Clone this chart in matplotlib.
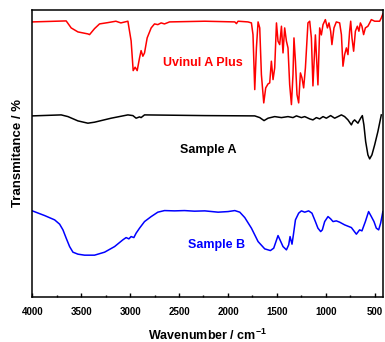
import matplotlib
matplotlib.use("Agg")
import matplotlib.pyplot as plt
from matplotlib.ticker import MultipleLocator

plt.rcParams["font.family"] = ["Liberation Sans", "DejaVu Sans"]
plt.rcParams["font.weight"] = "bold"
plt.rcParams["mathtext.fontset"] = "custom"
plt.rcParams["mathtext.rm"] = "Liberation Sans:bold"
plt.rcParams["mathtext.bf"] = "Liberation Sans:bold"

# Uvinul A Plus (offset spectrum, arbitrary transmittance units)
uvinul_wn = [4000, 3654, 3603, 3534, 3432, 3415, 3364, 3313, 3228, 3146, 3095, 3023,
             2990, 2969, 2949, 2928, 2904, 2888, 2870, 2853, 2826, 2785, 2751, 2717,
             2683, 2649, 2597, 2237, 1930, 1913, 1897, 1795, 1760, 1744, 1726, 1709,
             1692, 1675, 1658, 1634, 1614, 1590, 1573, 1556, 1539, 1522, 1504, 1488,
             1471, 1453, 1437, 1420, 1402, 1386, 1369, 1351, 1335, 1325, 1310, 1294,
             1277, 1259, 1243, 1226, 1208, 1182, 1164, 1147, 1131, 1106, 1080, 1062,
             1045, 1028, 1004, 983, 967, 950, 937, 916, 892, 858, 840, 824, 807, 789,
             773, 756, 745, 732, 715, 697, 677, 661, 646, 630, 613, 595, 569, 551,
             534, 500, 449, 432, 416]
uvinul_t = [275, 276, 269, 265, 263, 262.3, 268.3, 273, 274.3, 275.7, 274, 275.7,
            256, 226.3, 229.7, 226.3, 239, 246.3, 240.7, 244, 259, 269, 273, 272.3,
            274, 273, 275, 275.7, 275, 273.3, 275.7, 275, 274, 262.3, 207.3, 249,
            275, 269, 222.3, 194, 209, 213, 214, 235.7, 217.3, 229, 274, 255.7,
            252.3, 270.7, 244, 269, 255.7, 249, 212.3, 192.3, 222.3, 259, 235.7, 202.3,
            194, 224, 219, 209, 229, 274, 275.7, 259, 211, 262, 212, 269,
            262, 272.3, 277.3, 269, 274, 265.7, 252.3, 269, 275, 274, 262.3, 230.7, 242.3, 249,
            242.3, 265.7, 275.7, 259, 245.7, 265.7, 270.7, 265.7, 274, 270.7, 262.3, 269, 270.7, 274,
            277.3, 275.7, 275.7, 279, 283]

# Sample A
sample_a_wn = [4000, 3705, 3636, 3534, 3432, 3364, 3194, 3023, 2972, 2939, 2904, 2888,
               2853, 2237, 1726, 1675, 1631, 1590, 1522, 1453, 1386, 1335, 1300, 1249,
               1215, 1164, 1131, 1096, 1062, 1028, 994, 950, 909, 875, 840, 807, 773,
               738, 722, 705, 671, 643, 626, 610, 592, 569, 551, 528, 500, 467, 432]
sample_a_t = [181, 182, 180.3, 176, 173.7, 174.7, 178.7, 182, 181.3, 178.7, 180, 179.3,
              182, 181.3, 181, 179.3, 176.3, 178.7, 180.3, 179.3, 180.3, 179.3, 181, 179.3,
              180.3, 178, 177, 179.3, 178, 180.3, 178.7, 181.3, 178.7, 180.3, 182, 180.3, 177,
              172, 175.3, 177, 173.7, 178.7, 181.3, 172, 155.3, 142, 138, 142, 152, 165.3, 182]

# Sample B
sample_b_wn = [4000, 3874, 3772, 3721, 3687, 3654, 3619, 3585, 3534, 3466, 3364, 3261,
               3159, 3075, 3041, 3013, 2990, 2962, 2939, 2904, 2853, 2785, 2717, 2649,
               2546, 2444, 2342, 2237, 2101, 1999, 1930, 1879, 1828, 1760, 1692, 1624,
               1566, 1532, 1488, 1460, 1437, 1402, 1379, 1365, 1345, 1331, 1310, 1277,
               1249, 1215, 1175, 1141, 1106, 1080, 1052, 1035, 1011, 977, 950, 926, 892,
               858, 807, 738, 687, 654, 630, 595, 562, 534, 507, 483, 459, 439, 416]
sample_b_t = [86, 81.3, 77, 72.7, 67, 58.7, 50.3, 44.7, 42.7, 41.7, 41.7, 44.7,
              50.3, 57, 59.3, 58, 60.3, 59.3, 63.7, 68.7, 75.3, 80.3, 84.7, 86.3,
              86, 86.3, 85.7, 86, 84.7, 85.3, 86.3, 84.7, 79.3, 68.7, 55.3, 48,
              46.3, 48.7, 61.3, 55.3, 50.3, 47, 52, 60.3, 52.7, 62, 77, 83.7,
              86, 84.7, 86, 83.7, 75.3, 68.7, 65.3, 67, 75.3, 80.3, 78, 75.3, 76,
              74.7, 72, 69.3, 62.7, 67, 66, 75.3, 85.3, 80.3, 75.3, 68.7, 67, 73.7, 85.3]

fig = plt.figure(figsize=(3.85, 3.42), dpi=100)
ax = fig.add_axes([0.084, 0.132, 0.912, 0.839])

ax.plot(uvinul_wn, uvinul_t, color="#ff0000", lw=1.1)
ax.plot(sample_a_wn, sample_a_t, color="black", lw=1.1)
ax.plot(sample_b_wn, sample_b_t, color="#0000ff", lw=1.1)

ax.text(2257, 233.5, "Uvinul A Plus", color="#ff0000", fontsize=9, fontweight="bold",
        ha="center", va="center")
ax.text(2201, 146.5, "Sample A", color="black", fontsize=9, fontweight="bold",
        ha="center", va="center")
ax.text(2119, 52.3, "Sample B", color="#0000ff", fontsize=9, fontweight="bold",
        ha="center", va="center")

ax.set_xlim(4000, 410)
ax.set_ylim(0, 287)
ax.xaxis.set_major_locator(MultipleLocator(500))
ax.xaxis.set_minor_locator(MultipleLocator(250))
ax.tick_params(axis="x", which="major", direction="in", length=3.2, width=1.0,
               labelsize=7, pad=7)
ax.tick_params(axis="x", which="minor", direction="in", length=1.8, width=1.0)
ax.set_yticks([])
for lab in ax.get_xticklabels():
    lab.set_fontweight("bold")
for sp in ax.spines.values():
    sp.set_linewidth(1.1)

ax.set_xlabel(r"Wavenumber / cm$^{-1}$", fontsize=9, fontweight="bold", labelpad=8)
ax.set_ylabel("Transmitance / %", fontsize=9.5, fontweight="bold", labelpad=6)

fig.savefig("out.png", dpi=100)
